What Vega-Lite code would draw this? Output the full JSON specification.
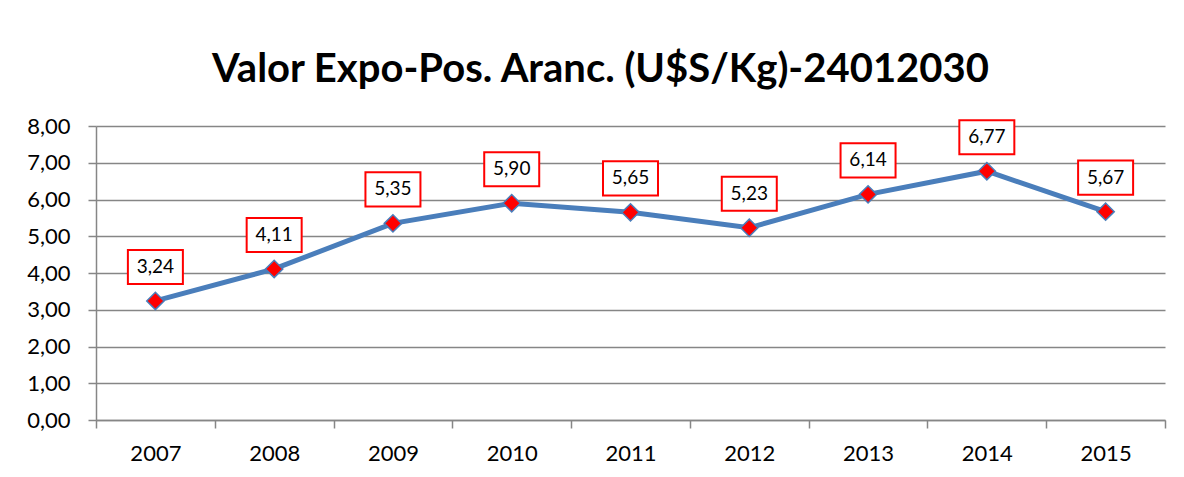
{
  "$schema": "https://vega.github.io/schema/vega-lite/v6.json",
  "autosize": {"type": "none"},
  "width": 1069,
  "height": 294,
  "padding": {"left": 96, "top": 126, "right": 19, "bottom": 57},
  "background": "white",
  "title": {
    "text": "Valor Expo-Pos. Aranc. (U$S/Kg)-24012030",
    "font": "Lato",
    "fontSize": 40,
    "fontWeight": "bold",
    "color": "#000000",
    "anchor": "middle",
    "offset": 25,
    "dx": -30
  },
  "data": {
    "values": [
      {"year": "2007", "value": 3.24},
      {"year": "2008", "value": 4.11},
      {"year": "2009", "value": 5.35},
      {"year": "2010", "value": 5.90},
      {"year": "2011", "value": 5.65},
      {"year": "2012", "value": 5.23},
      {"year": "2013", "value": 6.14},
      {"year": "2014", "value": 6.77},
      {"year": "2015", "value": 5.67}
    ]
  },
  "encoding": {
    "x": {
      "field": "year",
      "type": "ordinal",
      "scale": {"type": "band", "paddingInner": 0, "paddingOuter": 0},
      "axis": {
        "title": null,
        "labelAngle": 0,
        "labelFont": "Lato",
        "labelFontSize": 22,
        "labelColor": "#000000",
        "labelPadding": 15,
        "tickBand": "extent",
        "tickSize": 8,
        "tickColor": "#868686",
        "tickWidth": 1.5,
        "domainColor": "#868686",
        "domainWidth": 1.5,
        "grid": false
      }
    },
    "y": {
      "field": "value",
      "type": "quantitative",
      "scale": {"domain": [0, 8], "nice": false},
      "axis": {
        "title": null,
        "values": [0, 1, 2, 3, 4, 5, 6, 7, 8],
        "labelExpr": "replace(format(datum.value, '.2f'), '.', ',')",
        "labelFont": "Lato",
        "labelFontSize": 22,
        "labelColor": "#000000",
        "labelPadding": 18,
        "tickSize": 8,
        "tickColor": "#868686",
        "tickWidth": 1.5,
        "domainColor": "#868686",
        "domainWidth": 1.5,
        "grid": true,
        "gridColor": "#868686",
        "gridWidth": 1.5
      }
    }
  },
  "layer": [
    {
      "mark": {"type": "line", "color": "#4a7ebb", "strokeWidth": 5}
    },
    {
      "mark": {"type": "point", "shape": "diamond", "size": 300, "filled": true, "fill": "#ff0000", "stroke": "#4a7ebb", "strokeWidth": 1.5, "opacity": 1}
    },
    {
      "mark": {"type": "point", "shape": "M-1,-0.62H1V0.62H-1Z", "size": 3025, "filled": false, "fill": "white", "fillOpacity": 1, "stroke": "#ff0000", "strokeWidth": 2, "opacity": 1, "yOffset": -34}
    },
    {
      "mark": {"type": "text", "font": "Lato", "fontSize": 19, "color": "#000000", "yOffset": -34, "baseline": "middle"},
      "encoding": {
        "text": {"field": "value", "type": "quantitative", "format": ".2f", "formatType": "number"}
      }
    }
  ],
  "config": {
    "view": {"stroke": null},
    "locale": {"number": {"decimal": ",", "thousands": ".", "grouping": [3], "currency": ["", ""]}}
  }
}
